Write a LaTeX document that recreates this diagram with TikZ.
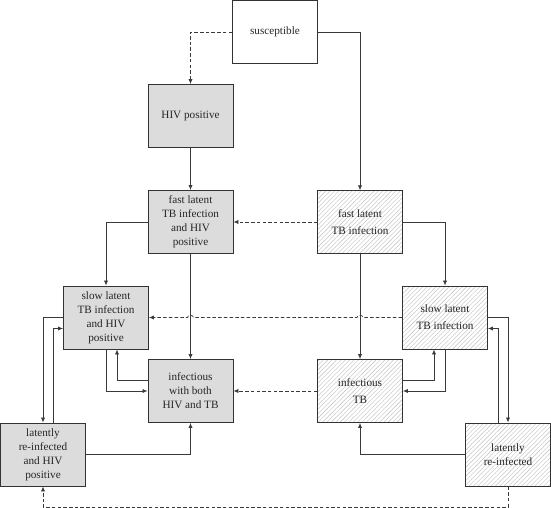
\documentclass[tikz,border=0pt]{standalone}
\usepackage{fontspec}
\setmainfont{Liberation Serif}
\usetikzlibrary{arrows.meta,calc,patterns.meta}
\definecolor{linecol}{HTML}{3A3A3A}
\definecolor{boxcol}{HTML}{333333}
\definecolor{grayfill}{HTML}{DCDCDC}
\tikzset{
  box/.style={draw=boxcol,line width=0.85pt,minimum width=85pt,minimum height=63pt,inner sep=0pt,align=center,text=black!85,font=\fontsize{11.2}{14}\selectfont},
  hivbox/.style={box,fill=grayfill},
  tbbox/.style={box,fill=white,preaction={fill=white},pattern={Lines[angle=45,distance=3.1pt,line width=0.4pt]},pattern color=black!25,font=\fontsize{11.2}{17}\selectfont},
  conn/.style={draw=linecol,line width=0.75pt,-{Latex[length=5pt,width=4.2pt]}},
  dconn/.style={conn,dash pattern=on 3.5pt off 2.2pt},
}
\begin{document}
\begin{tikzpicture}[x=1pt,y=-1pt]
\useasboundingbox (0,0) rectangle (551,508);
\node[box,fill=white] (sus) at (275,32) {susceptible};
\node[hivbox] (hiv) at (190.5,116) {HIV positive};
\node[hivbox] (fhiv) at (190.5,222) {fast latent\\TB infection\\and HIV\\positive};
\node[tbbox] (ftb) at (360,222) {fast latent\\TB infection};
\node[hivbox] (shiv) at (106,317.5) {slow latent\\TB infection\\and HIV\\positive};
\node[tbbox] (stb) at (445,317.5) {slow latent\\TB infection};
\node[hivbox] (ib) at (190.5,391) {infectious\\with both\\HIV and TB};
\node[tbbox] (itb) at (360,391) {infectious\\TB};
\node[hivbox] (lhiv) at (43,454.5) {latently\\re-infected\\and HIV\\positive};
\node[tbbox,font=\fontsize{11.2}{14}\selectfont] (ltb) at (508,454.5) {latently\\re-infected};
\coordinate (bot) at ($(ltb.south)+(0,20.5)$);
\coordinate (hopA) at ($(stb.west -| ftb.south)+(3,0)$);
\coordinate (hopB) at ($(stb.west -| fhiv.south)+(3,0)$);

\draw[dconn] (sus.west) -| (hiv.north);
\draw[conn] (sus.east) -| (ftb.north);
\draw[conn] (hiv.south) -- (fhiv.north);
\draw[dconn] (ftb.west) -- (fhiv.east);
\draw[conn] (fhiv.west) -| (shiv.north);
\draw[conn] (fhiv.south) -- (ib.north);
\draw[conn] (ftb.east) -| (stb.north);
\draw[conn] (ftb.south) -- (itb.north);
\draw[dconn] (stb.west) -- (hopA)
  arc[start angle=0,end angle=-180,x radius=3,y radius=2.2]
  -- (hopB)
  arc[start angle=0,end angle=-180,x radius=3,y radius=2.2]
  -- (shiv.east);
\draw[dconn] (itb.west) -- (ib.east);
\draw[conn] (shiv.south) |- (ib.west);
\draw[conn] ($(ib.west)+(0,-11)$) -| ($(shiv.south)+(11,0)$);
\draw[conn] (stb.south) |- (itb.east);
\draw[conn] ($(itb.east)+(0,-11)$) -| ($(stb.south)+(-11,0)$);
\draw[conn] (shiv.west) -| (lhiv.north);
\draw[conn] ($(lhiv.north)+(10,0)$) |- ($(shiv.west)+(0,11)$);
\draw[conn] (stb.east) -| (ltb.north);
\draw[conn] ($(ltb.north)+(-10,0)$) |- ($(stb.east)+(0,11)$);
\draw[conn] (lhiv.east) -| (ib.south);
\draw[conn] (ltb.west) -| (itb.south);
\draw[dconn] (ltb.south) -- (bot) -| (lhiv.south);
\end{tikzpicture}
\end{document}
